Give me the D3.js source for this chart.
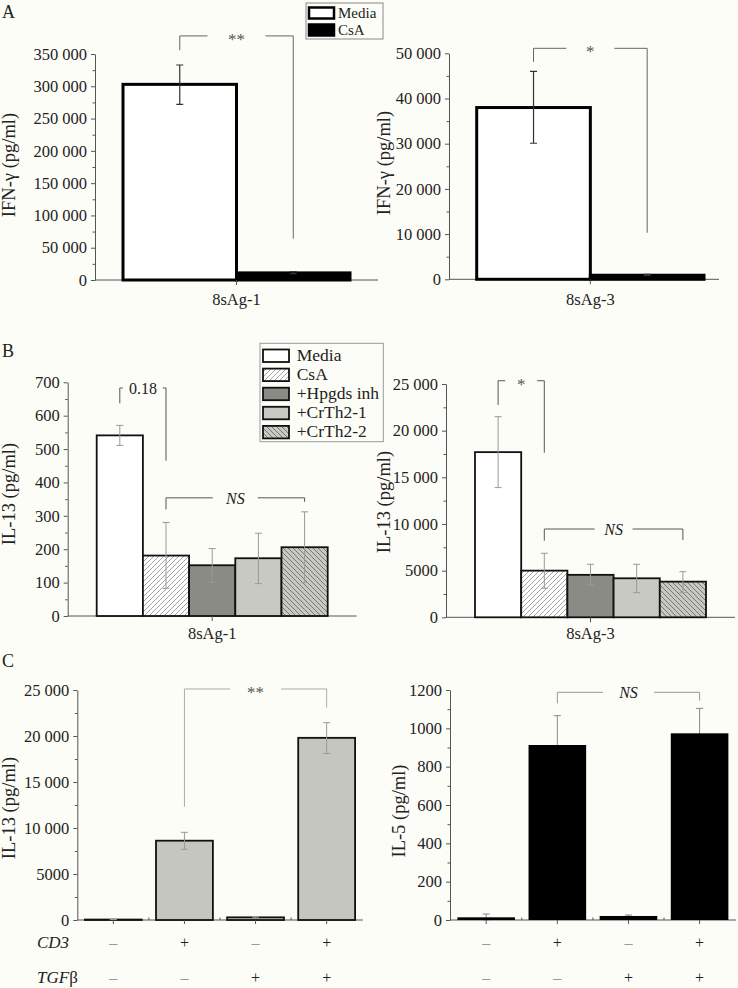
<!DOCTYPE html>
<html><head><meta charset="utf-8">
<script src="https://cdn.jsdelivr.net/npm/d3@7"></script>
<style>
html,body{margin:0;padding:0;background:#fdfdf8;}
svg{display:block;font-family:"Liberation Serif","Times New Roman",serif;}
</style></head><body>
<svg id="chart" width="738" height="988"></svg>
<script>
// ---------------- DATA ----------------
const seriesA = ["Media", "CsA"];
const groupA1 = "8sAg-1";
const groupA2 = "8sAg-3";
const a1Values = [303000, 11000];
const a1Hi = [333000, 13000];
const a1Lo = [272000, 10000];
const a2Values = [38000, 900];
const a2Hi = [46000, 1100];
const a2Lo = [30100, 800];
const a1Ticks = [0, 50000, 100000, 150000, 200000, 250000, 300000, 350000];
const a2Ticks = [0, 10000, 20000, 30000, 40000, 50000];

const seriesB = ["Media", "CsA", "+Hpgds inh", "+CrTh2-1", "+CrTh2-2"];
const b1Values = [541, 181, 152, 173, 206];
const b1Hi = [571, 280, 202, 248, 312];
const b1Lo = [511, 83, 101, 97, 100];
const b2Values = [17700, 5000, 4550, 4180, 3820];
const b2Hi = [21500, 6860, 5680, 5680, 4890];
const b2Lo = [13900, 3110, 3460, 2640, 2640];
const b1Ticks = [0, 100, 200, 300, 400, 500, 600, 700];
const b2Ticks = [0, 5000, 10000, 15000, 20000, 25000];

const conditionsC = ["c1", "c2", "c3", "c4"];
const cd3Signs = ["\u2013", "+", "\u2013", "+"];
const tgfSigns = ["\u2013", "\u2013", "+", "+"];
const c1Values = [50, 8620, 290, 19800];
const c1Hi = [60, 9530, 360, 21450];
const c1Lo = [40, 7690, 230, 18100];
const c2Values = [14, 913, 21, 974];
const c2Hi = [31, 1066, 26, 1104];
const c2Lo = [0, 760, 16, 844];
const c1Ticks = [0, 5000, 10000, 15000, 20000, 25000];
const c2Ticks = [0, 200, 400, 600, 800, 1000, 1200];

// significance brackets (bar indices, data-unit heights, label)
const a1Sig = [{from: 0, to: 1, top: 378000, leftEnd: 356000, rightEnd: 64000, label: "**"}];
const a2Sig = [{from: 0, to: 1, top: 51100, leftEnd: 48100, rightEnd: 10300, label: "*"}];
const b1Sig = [{from: 0, to: 1, top: 683, leftEnd: 637, rightEnd: 465, label: "0.18"},
               {from: 1, to: 4, top: 354, leftEnd: 319, rightEnd: 342, label: "NS"}];
const b2Sig = [{from: 0, to: 1, top: 25350, leftEnd: 22750, rightEnd: 17640, label: "*"},
               {from: 1, to: 4, top: 9460, leftEnd: 8210, rightEnd: 8280, label: "NS"}];
const c1Sig = [{from: 1, to: 3, top: 25110, leftEnd: 12315, rightEnd: 23075, label: "**"}];
const c2Sig = [{from: 1, to: 3, top: 1188, leftEnd: 1130, rightEnd: 1144, label: "NS"}];

// ---------------- DRAWING ----------------
const FONT = '"Liberation Serif", "Times New Roman", serif';
const svg = d3.select("#chart");
const defs = svg.append("defs");
function hatch(id, bg, col, dir) {
  const p = defs.append("pattern").attr("id", id).attr("patternUnits", "userSpaceOnUse")
    .attr("width", 5).attr("height", 5);
  p.append("rect").attr("width", 5).attr("height", 5).attr("fill", bg);
  if (dir > 0) {
    p.append("path").attr("d", "M-1,1 L1,-1 M0,5 L5,0 M4,6 L6,4").attr("stroke", col).attr("stroke-width", 0.9);
  } else {
    p.append("path").attr("d", "M-1,4 L1,6 M0,0 L5,5 M4,-1 L6,1").attr("stroke", col).attr("stroke-width", 0.9);
  }
}
hatch("hatchCsA", "#ffffff", "#9a9a96", 1);
hatch("hatchCr2", "#c9c9c3", "#6e6e6a", -1);

const fillsA = ["#ffffff", "#000000"];
const fillsB = ["#ffffff", "url(#hatchCsA)", "#8b8b86", "#c9c9c3", "url(#hatchCr2)"];

function fmt(v) {
  return v >= 10000 ? d3.format(",")(v).replace(/,/g, " ") : String(v);
}

function panel(cfg) {
  const g = svg.append("g");
  const y = d3.scaleLinear().domain([0, cfg.max]).range([cfg.y0, cfg.y1]);
  const x = d3.scaleBand().domain(cfg.series).range(cfg.xr)
    .paddingInner(cfg.pi || 0).paddingOuter(cfg.po || 0);

  // y axis
  const minors = [];
  for (let i = 0; i < cfg.ticks.length - 1; i++) minors.push((cfg.ticks[i] + cfg.ticks[i + 1]) / 2);
  const ya = g.append("g").attr("transform", `translate(${cfg.ax},0)`)
    .call(d3.axisLeft(y).tickValues(cfg.ticks).tickSize(4).tickSizeOuter(0).tickPadding(4).tickFormat(fmt));
  ya.attr("font-family", FONT).attr("font-size", 16.5);
  ya.select(".domain").attr("stroke", "#555");
  ya.selectAll(".tick line").attr("stroke", "#555");
  ya.selectAll(".tick text").attr("fill", "#222");
  const ym = g.append("g").attr("transform", `translate(${cfg.ax},0)`)
    .call(d3.axisLeft(y).tickValues(minors).tickSize(2.5).tickFormat(""));
  ym.select(".domain").remove();
  ym.selectAll(".tick line").attr("stroke", "#555");

  // x baseline
  g.append("line").attr("x1", cfg.ax).attr("x2", cfg.axEnd)
    .attr("y1", y(0)).attr("y2", y(0)).attr("stroke", "#555");

  const cx = i => x(cfg.series[i]) + x.bandwidth() / 2;
  const drawErr = () => {
    const eg = g.append("g").attr("stroke", cfg.errColor).attr("stroke-width", cfg.errW || 1).attr("fill", "none");
    cfg.values.forEach((v, i) => {
      const c = cx(i), hi = y(cfg.hi[i]), lo = y(cfg.lo[i]), w = 3.5;
      eg.append("path").attr("d", `M${c},${hi}V${lo}M${c - w},${hi}H${c + w}M${c - w},${lo}H${c + w}`);
    });
  };
  if (cfg.errBelow) drawErr();

  // bars
  g.selectAll("rect.bar").data(cfg.values).join("rect").attr("class", "bar")
    .attr("x", (d, i) => x(cfg.series[i]))
    .attr("width", x.bandwidth())
    .attr("y", d => y(d))
    .attr("height", d => y(0) - y(d))
    .attr("fill", (d, i) => cfg.fills[i])
    .attr("stroke", (d, i) => cfg.strokes ? cfg.strokes[i] : "none")
    .attr("stroke-width", cfg.sw || 0);

  if (!cfg.errBelow) drawErr();

  // brackets
  cfg.sig.forEach((s, k) => {
    const xa = cx(s.from), xb = cx(s.to), xm = (xa + xb) / 2;
    const yt = y(s.top), gap = cfg.gaps[k];
    g.append("path").attr("fill", "none").attr("stroke", cfg.sigColor).attr("stroke-width", 1)
      .attr("d", `M${xa},${y(s.leftEnd)}V${yt}H${xm - gap}M${xm + gap},${yt}H${xb}V${y(s.rightEnd)}`);
    const isStar = s.label.indexOf("*") >= 0;
    g.append("text").attr("x", xm).attr("y", yt + (isStar ? 9 : 6))
      .attr("text-anchor", "middle").attr("font-size", isStar ? 17 : 16)
      .attr("font-style", s.label === "NS" ? "italic" : "normal")
      .attr("fill", isStar ? "#555" : "#222").text(s.label);
  });

  // y title
  g.append("text").attr("transform", `translate(${cfg.tx},${cfg.ty}) rotate(-90)`)
    .attr("text-anchor", "middle").attr("font-size", 18.5).attr("fill", "#222").text(cfg.title);

  // group label / tick
  if (cfg.group) {
    const xc = (cfg.xr[0] + cfg.xr[1]) / 2;
    g.append("line").attr("x1", xc).attr("x2", xc).attr("y1", y(0)).attr("y2", y(0) + 5).attr("stroke", "#555");
    g.append("text").attr("x", xc).attr("y", cfg.gy).attr("text-anchor", "middle")
      .attr("font-size", 16.5).attr("fill", "#222").text(cfg.group);
  }
  return {x, y, cx, g};
}

// ---- Panel A ----
panel({series: seriesA, values: a1Values, hi: a1Hi, lo: a1Lo, max: 350000, y0: 280, y1: 54,
  xr: [123, 350], ax: 95, axEnd: 378, ticks: a1Ticks, fills: fillsA, strokes: ["#000", "#000"], sw: 3,
  errColor: "#333", errW: 1.2, sig: a1Sig, gaps: [29], sigColor: "#666",
  title: "IFN-\u03b3 (pg/ml)", tx: 15, ty: 165, group: groupA1, gy: 305});
panel({series: seriesA, values: a2Values, hi: a2Hi, lo: a2Lo, max: 50000, y0: 279.3, y1: 53.3,
  xr: [476.7, 704], ax: 449, axEnd: 719, ticks: a2Ticks, fills: fillsA, strokes: ["#000", "#000"], sw: 3,
  errColor: "#333", errW: 1.2, sig: a2Sig, gaps: [24], sigColor: "#666",
  title: "IFN-\u03b3 (pg/ml)", tx: 390, ty: 163, group: groupA2, gy: 305});

// ---- Panel B ----
panel({series: seriesB, values: b1Values, hi: b1Hi, lo: b1Lo, max: 700, y0: 616, y1: 382.3,
  xr: [96.7, 327.7], ax: 67.7, axEnd: 356.7, ticks: b1Ticks, fills: fillsB, strokes: seriesB.map(() => "#111"), sw: 1.8,
  errColor: "#999", errW: 1, sig: b1Sig, gaps: [20, 22.5], sigColor: "#555",
  title: "IL-13 (pg/ml)", tx: 15, ty: 494, group: groupA1, gy: 639});
panel({series: seriesB, values: b2Values, hi: b2Hi, lo: b2Lo, max: 25000, y0: 617.3, y1: 384,
  xr: [475, 706], ax: 446, axEnd: 735, ticks: b2Ticks, fills: fillsB, strokes: seriesB.map(() => "#111"), sw: 1.8,
  errColor: "#999", errW: 1, sig: b2Sig, gaps: [16, 19], sigColor: "#555",
  title: "IL-13 (pg/ml)", tx: 390, ty: 502, group: groupA2, gy: 639});

// ---- Panel C ----
const pc1 = panel({series: conditionsC, values: c1Values, hi: c1Hi, lo: c1Lo, max: 25000, y0: 920, y1: 690,
  xr: [77.8, 362.2], pi: 0.2, po: 0.1, ax: 77.3, axEnd: 363, ticks: c1Ticks,
  fills: conditionsC.map(() => "#c6c6c0"), strokes: conditionsC.map(() => "#111"), sw: 1.8,
  errColor: "#999", errW: 1, sig: c1Sig, gaps: [25.5], sigColor: "#aaa",
  title: "IL-13 (pg/ml)", tx: 15, ty: 808});
const pc2 = panel({series: conditionsC, values: c2Values, hi: c2Hi, lo: c2Lo, max: 1200, y0: 920, y1: 690,
  xr: [450.3, 735.5], pi: 0.19, po: 0.1, ax: 450, axEnd: 736, ticks: c2Ticks,
  fills: conditionsC.map(() => "#000"), strokes: null, sw: 0, errBelow: true,
  errColor: "#888", errW: 1, sig: c2Sig, gaps: [25.5], sigColor: "#999",
  title: "IL-5 (pg/ml)", tx: 405, ty: 811});

[pc1, pc2].forEach(p => {
  const y0 = p.y(0);
  conditionsC.forEach((c, i) => {
    const xc = p.cx(i);
    p.g.append("line").attr("x1", xc).attr("x2", xc).attr("y1", y0).attr("y2", y0 + 4).attr("stroke", "#555");
    const xb = p.x(c) + p.x.bandwidth() + p.x.step() * p.x.paddingInner() / 2;
    if (i < conditionsC.length - 1)
      p.g.append("line").attr("x1", xb).attr("x2", xb).attr("y1", y0).attr("y2", y0 - 2.5).attr("stroke", "#555");
    p.g.append("text").attr("x", xc).attr("y", 948).attr("text-anchor", "middle").attr("font-size", 16)
      .attr("fill", cd3Signs[i] === "+" ? "#222" : "#999").text(cd3Signs[i]);
    p.g.append("text").attr("x", xc).attr("y", 983).attr("text-anchor", "middle").attr("font-size", 16)
      .attr("fill", tgfSigns[i] === "+" ? "#222" : "#999").text(tgfSigns[i]);
  });
});
svg.append("text").attr("x", 37).attr("y", 948).attr("font-size", 17).attr("font-style", "italic")
  .attr("fill", "#222").text("CD3");
const tg = svg.append("text").attr("x", 37).attr("y", 983).attr("font-size", 17).attr("fill", "#222");
tg.append("tspan").attr("font-style", "italic").text("TGF");
tg.append("tspan").text("\u03b2");

// ---- Panel letters ----
[["A", 18], ["B", 357], ["C", 667]].forEach(([t, yy]) => {
  svg.append("text").attr("x", 2).attr("y", yy).attr("font-size", 18).attr("fill", "#222").text(t);
});

// ---- Legend A ----
const lA = svg.append("g");
lA.append("rect").attr("x", 306).attr("y", 3).attr("width", 77).attr("height", 36)
  .attr("fill", "#fdfdf8").attr("stroke", "#888").attr("stroke-width", 1);
seriesA.forEach((s, i) => {
  lA.append("rect").attr("x", 309).attr("y", 7.5 + i * 17).attr("width", 25).attr("height", 11)
    .attr("fill", fillsA[i]).attr("stroke", "#000").attr("stroke-width", 2.5);
  lA.append("text").attr("x", 338).attr("y", 17.5 + i * 17).attr("font-size", 15).attr("fill", "#222").text(s);
});

// ---- Legend B ----
const lB = svg.append("g");
lB.append("rect").attr("x", 260).attr("y", 343.3).attr("width", 123.3).attr("height", 98.4)
  .attr("fill", "#fdfdf8").attr("stroke", "#999").attr("stroke-width", 1);
seriesB.forEach((s, i) => {
  lB.append("rect").attr("x", 263).attr("y", 349.5 + i * 19.1).attr("width", 26).attr("height", 12.5)
    .attr("fill", fillsB[i]).attr("stroke", "#111").attr("stroke-width", 1.8);
  lB.append("text").attr("x", 296.7).attr("y", 361 + i * 19.1).attr("font-size", 17.5).attr("fill", "#222").text(s);
});
</script>
</body></html>
